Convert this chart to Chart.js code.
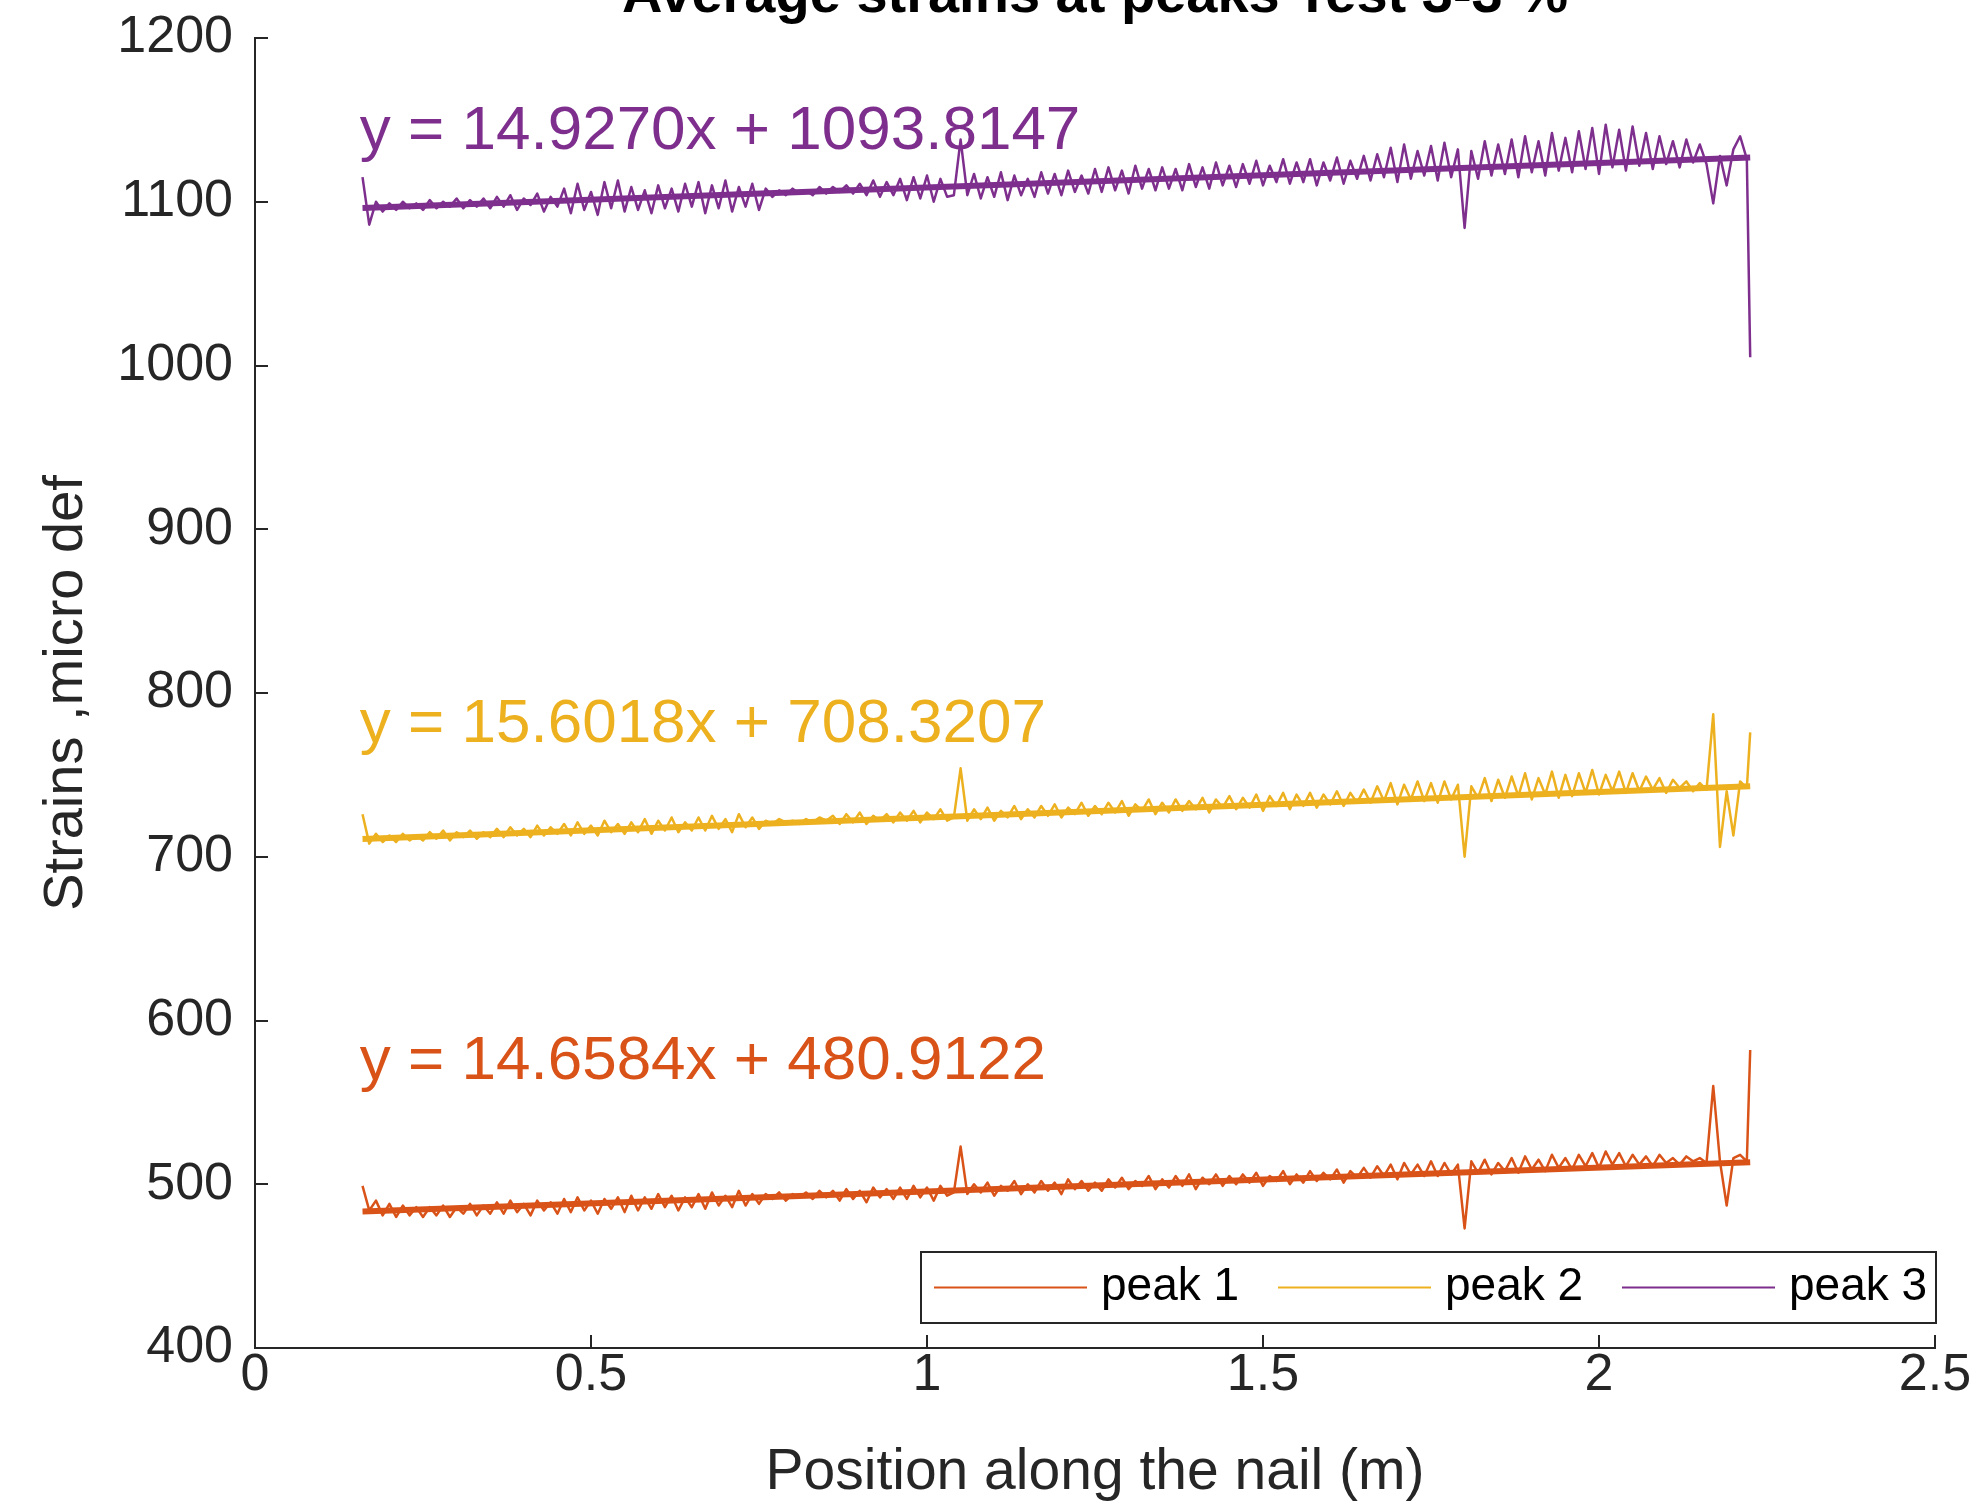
<!DOCTYPE html>
<html>
<head>
<meta charset="utf-8">
<title>Average strains at peaks Test 3-3 %</title>
<script src="https://cdn.jsdelivr.net/npm/chart.js@4.4.1/dist/chart.umd.min.js"></script>
<style>
  html, body { margin: 0; padding: 0; background: #fff; }
  canvas { display: block; }
</style>
</head>
<body>
<canvas id="line-chart" width="1979" height="1507"></canvas>
<script>
// position along the nail (m)
var positions = [
    0.16, 0.17, 0.18, 0.19, 0.2, 0.21, 0.22, 0.23, 0.24, 0.25,
    0.26, 0.27, 0.28, 0.29, 0.3, 0.31, 0.32, 0.33, 0.34, 0.35,
    0.36, 0.37, 0.38, 0.39, 0.4, 0.41, 0.42, 0.43, 0.44, 0.45,
    0.46, 0.47, 0.48, 0.49, 0.5, 0.51, 0.52, 0.53, 0.54, 0.55,
    0.56, 0.57, 0.58, 0.59, 0.6, 0.61, 0.62, 0.63, 0.64, 0.65,
    0.66, 0.67, 0.68, 0.69, 0.7, 0.71, 0.72, 0.73, 0.74, 0.75,
    0.76, 0.77, 0.78, 0.79, 0.8, 0.81, 0.82, 0.83, 0.84, 0.85,
    0.86, 0.87, 0.88, 0.89, 0.9, 0.91, 0.92, 0.93, 0.94, 0.95,
    0.96, 0.97, 0.98, 0.99, 1.0, 1.01, 1.02, 1.03, 1.04, 1.05,
    1.06, 1.07, 1.08, 1.09, 1.1, 1.11, 1.12, 1.13, 1.14, 1.15,
    1.16, 1.17, 1.18, 1.19, 1.2, 1.21, 1.22, 1.23, 1.24, 1.25,
    1.26, 1.27, 1.28, 1.29, 1.3, 1.31, 1.32, 1.33, 1.34, 1.35,
    1.36, 1.37, 1.38, 1.39, 1.4, 1.41, 1.42, 1.43, 1.44, 1.45,
    1.46, 1.47, 1.48, 1.49, 1.5, 1.51, 1.52, 1.53, 1.54, 1.55,
    1.56, 1.57, 1.58, 1.59, 1.6, 1.61, 1.62, 1.63, 1.64, 1.65,
    1.66, 1.67, 1.68, 1.69, 1.7, 1.71, 1.72, 1.73, 1.74, 1.75,
    1.76, 1.77, 1.78, 1.79, 1.8, 1.81, 1.82, 1.83, 1.84, 1.85,
    1.86, 1.87, 1.88, 1.89, 1.9, 1.91, 1.92, 1.93, 1.94, 1.95,
    1.96, 1.97, 1.98, 1.99, 2.0, 2.01, 2.02, 2.03, 2.04, 2.05,
    2.06, 2.07, 2.08, 2.09, 2.1, 2.11, 2.12, 2.13, 2.14, 2.15,
    2.16, 2.17, 2.18, 2.19, 2.2, 2.21, 2.22, 2.225
];

// strains, micro def
var peak1 = [
    499, 484, 490, 481, 488, 480, 487, 481, 486, 480,
    486, 481, 487, 480, 486, 482, 488, 481, 487, 482,
    489, 482, 490, 483, 488, 481, 490, 484, 489, 482,
    491, 483, 492, 484, 490, 482, 491, 485, 492, 483,
    493, 484, 492, 485, 494, 486, 493, 484, 492, 486,
    494, 485, 495, 487, 493, 486, 496, 487, 494, 488,
    494, 491, 495, 490, 494, 492, 495, 491, 496, 492,
    496, 490, 497, 491, 496, 489, 498, 492, 497, 491,
    498, 491, 499, 492, 498, 490, 499, 493, 495, 523,
    494, 500, 495, 501, 493, 499, 496, 502, 494, 500,
    495, 502, 496, 501, 494, 503, 497, 502, 496, 501,
    496, 503, 498, 504, 497, 502, 499, 505, 497, 503,
    498, 505, 499, 506, 497, 504, 500, 506, 499, 505,
    500, 506, 501, 507, 499, 505, 502, 508, 500, 506,
    501, 508, 502, 507, 503, 509, 501, 508, 504, 510,
    504, 511, 505, 512, 503, 513, 506, 512, 505, 514,
    505, 513, 506, 512, 473, 514, 507, 515, 506, 513,
    508, 516, 507, 517, 509, 515, 508, 518, 510, 516,
    509, 518, 511, 519, 510, 520, 512, 519, 511, 518,
    512, 517, 511, 518, 513, 516, 512, 517, 514, 516,
    513, 560, 514, 487, 516, 518, 514, 582
];
var peak2 = [
    726, 708, 714, 709, 713, 709, 714, 710, 713, 710,
    715, 711, 716, 710, 715, 712, 716, 711, 715, 712,
    717, 712, 718, 713, 717, 712, 719, 713, 718, 714,
    720, 713, 721, 714, 719, 713, 722, 715, 720, 714,
    721, 715, 723, 714, 722, 716, 724, 715, 721, 716,
    724, 716, 725, 717, 723, 715, 726, 718, 724, 717,
    722, 720, 723, 721, 722, 720, 723, 721, 724, 722,
    725, 720, 726, 721, 727, 720, 725, 722, 726, 721,
    727, 722, 728, 721, 727, 723, 729, 722, 724, 754,
    722, 729, 723, 730, 722, 728, 724, 731, 723, 729,
    724, 731, 725, 732, 724, 730, 726, 733, 725, 731,
    726, 733, 727, 734, 725, 732, 728, 735, 726, 733,
    727, 735, 728, 734, 729, 736, 727, 735, 730, 737,
    729, 736, 730, 738, 728, 737, 731, 739, 729, 738,
    731, 739, 730, 738, 732, 740, 731, 739, 733, 741,
    733, 743, 734, 745, 732, 744, 735, 746, 734, 745,
    733, 746, 735, 744, 700, 743, 736, 748, 734, 747,
    736, 749, 737, 751, 735, 748, 738, 752, 736, 750,
    737, 751, 739, 753, 738, 750, 740, 752, 739, 751,
    740, 749, 741, 748, 739, 747, 742, 746, 740, 745,
    741, 787, 706, 740, 713, 746, 742, 776
];
var peak3 = [
    1115, 1086, 1100, 1094, 1099, 1095, 1100, 1096, 1099, 1095,
    1101, 1096, 1100, 1097, 1102, 1096, 1101, 1097, 1102, 1096,
    1103, 1097, 1104, 1095, 1102, 1098, 1105, 1094, 1103, 1097,
    1108, 1093, 1111, 1095, 1106, 1092, 1112, 1096, 1113, 1094,
    1109, 1095, 1107, 1093, 1110, 1096, 1108, 1094, 1111, 1097,
    1112, 1093, 1110, 1096, 1113, 1094, 1109, 1097, 1111, 1095,
    1108, 1103, 1107, 1104, 1108, 1105, 1107, 1104, 1109, 1105,
    1109, 1106, 1110, 1105, 1111, 1104, 1113, 1103, 1112, 1104,
    1114, 1101, 1115, 1102, 1116, 1100, 1114, 1103, 1104, 1138,
    1104, 1117, 1102, 1115, 1103, 1118, 1101, 1116, 1104, 1114,
    1103, 1118, 1105, 1117, 1104, 1119, 1106, 1116, 1105, 1120,
    1106, 1121, 1107, 1119, 1105, 1122, 1108, 1120, 1107, 1121,
    1108, 1120, 1107, 1123, 1109, 1121, 1108, 1124, 1110, 1122,
    1109, 1123, 1111, 1125, 1110, 1122, 1112, 1126, 1111, 1124,
    1112, 1126, 1110, 1124, 1113, 1127, 1111, 1125, 1114, 1128,
    1113, 1129, 1115, 1133, 1112, 1135, 1114, 1131, 1116, 1134,
    1113, 1136, 1115, 1132, 1084, 1131, 1114, 1137, 1116, 1135,
    1117, 1138, 1115, 1140, 1118, 1137, 1116, 1142, 1119, 1139,
    1118, 1143, 1120, 1145, 1117, 1147, 1121, 1144, 1119, 1146,
    1122, 1142, 1120, 1140, 1123, 1137, 1121, 1138, 1124, 1135,
    1123, 1099, 1128, 1110, 1132, 1140, 1126, 1005
];

// linear fits, end points
var fitX = [0.16, 2.225];
var fit1 = [483.3, 513.5];
var fit2 = [710.8, 743.0];
var fit3 = [1096.2, 1127.0];

var seriesLabels = ["peak 1", "peak 2", "peak 3"];
var equations = ["y = 14.6584x + 480.9122", "y = 15.6018x + 708.3207", "y = 14.9270x + 1093.8147"];
var xTicks = [0, 0.5, 1, 1.5, 2, 2.5];
var yTicks = [400, 500, 600, 700, 800, 900, 1000, 1100, 1200];

var colors = ["#D95319", "#EDB120", "#7E2F8E"];
var FONT = '"Liberation Sans", Arial, Helvetica, sans-serif';
var AXIS = "#262626";

function toPoints(xs, ys) {
    return ys.map(function(v, i) { return {x: xs[i], y: v}; });
}

// MATLAB style: inward ticks, fit equations, title cut by the top edge, legend box
var matlabDecor = {
    id: "matlabDecor",
    afterDraw: function(chart, args, opts) {
        var ctx = chart.ctx;
        var xs = chart.scales.x, ys = chart.scales.y;
        var area = chart.chartArea;
        ctx.save();

        ctx.strokeStyle = AXIS;
        ctx.lineWidth = 2;
        ctx.beginPath();
        xTicks.forEach(function(v) {
            var px = Math.round(xs.getPixelForValue(v));
            ctx.moveTo(px, area.bottom);
            ctx.lineTo(px, area.bottom - 13);
        });
        yTicks.forEach(function(v) {
            var py = Math.round(ys.getPixelForValue(v));
            ctx.moveTo(area.left, py);
            ctx.lineTo(area.left + 13, py);
        });
        ctx.stroke();

        ctx.font = "62px " + FONT;
        ctx.textAlign = "left";
        ctx.textBaseline = "alphabetic";
        equations.forEach(function(t, i) {
            var a = opts.eqAnchors[i];
            ctx.fillStyle = colors[i];
            ctx.fillText(t, xs.getPixelForValue(a[0]), ys.getPixelForValue(a[1]));
        });

        ctx.font = "bold 56px " + FONT;
        ctx.fillStyle = "#000";
        ctx.textAlign = "center";
        ctx.fillText(opts.title, (area.left + area.right) / 2, 12);

        // legend
        var lg = opts.legend;
        ctx.fillStyle = "#fff";
        ctx.fillRect(lg.left, lg.top, lg.width, lg.height);
        ctx.strokeStyle = AXIS;
        ctx.lineWidth = 2;
        ctx.strokeRect(lg.left, lg.top, lg.width, lg.height);
        var midY = lg.top + lg.height / 2;
        ctx.font = "46px " + FONT;
        ctx.textAlign = "left";
        ctx.textBaseline = "middle";
        seriesLabels.forEach(function(lab, i) {
            var x0 = lg.left + 13 + i * 344;
            ctx.strokeStyle = colors[i];
            ctx.beginPath();
            ctx.moveTo(x0, midY);
            ctx.lineTo(x0 + 153, midY);
            ctx.stroke();
            ctx.fillStyle = "#000";
            ctx.fillText(lab, x0 + 167, midY);
        });
        ctx.restore();
    }
};

var ctx = document.getElementById("line-chart").getContext("2d");
var datasets = [];
[peak1, peak2, peak3].forEach(function(vals, i) {
    datasets.push({
        label: seriesLabels[i],
        data: toPoints(positions, vals),
        borderColor: colors[i],
        borderWidth: 2.5,
        borderJoinStyle: "round",
        pointRadius: 0,
        showLine: true,
        order: 2
    });
});
[fit1, fit2, fit3].forEach(function(vals, i) {
    datasets.push({
        label: "fit " + (i + 1),
        data: toPoints(fitX, vals),
        borderColor: colors[i],
        borderWidth: 6,
        pointRadius: 0,
        showLine: true,
        order: 1
    });
});

var lineChart = new Chart(ctx, {
    type: "scatter",
    data: { datasets: datasets },
    options: {
        responsive: false,
        animation: false,
        events: [],
        layout: { padding: { top: 38, left: 33, right: 44, bottom: 0 } },
        plugins: {
            legend: { display: false },
            tooltip: { enabled: false },
            matlabDecor: {
                title: "Average strains at peaks Test 3-3 %",
                eqAnchors: [[0.156, 564.3], [0.156, 770], [0.156, 1132.2]],
                legend: { left: 921, top: 1252, width: 1015, height: 71 }
            }
        },
        scales: {
            x: {
                type: "linear",
                min: 0,
                max: 2.5,
                afterBuildTicks: function(scale) {
                    scale.ticks = xTicks.map(function(v) { return {value: v}; });
                },
                afterFit: function(scale) { scale.height = 159; },
                grid: { display: false, drawTicks: false },
                border: { display: true, color: AXIS, width: 2 },
                ticks: {
                    autoSkip: false, maxRotation: 0, padding: -4, color: AXIS,
                    font: { family: FONT, size: 52 },
                    callback: function(v) { return String(v); }
                },
                title: { display: true, text: "Position along the nail (m)", color: AXIS, padding: 0, font: { family: FONT, size: 57 } }
            },
            y: {
                min: 400,
                max: 1200,
                afterBuildTicks: function(scale) {
                    scale.ticks = yTicks.map(function(v) { return {value: v}; });
                },
                afterFit: function(scale) { scale.width = 222; },
                grid: { display: false, drawTicks: false },
                border: { display: true, color: AXIS, width: 2 },
                ticks: {
                    autoSkip: false, padding: 22, color: AXIS,
                    font: { family: FONT, size: 52, lineHeight: 0.6 },
                    callback: function(v) { return String(v); }
                },
                title: { display: true, text: "Strains ,micro def", color: AXIS, padding: 0, font: { family: FONT, size: 56 } }
            }
        }
    },
    plugins: [matlabDecor]
});
</script>
</body>
</html>
